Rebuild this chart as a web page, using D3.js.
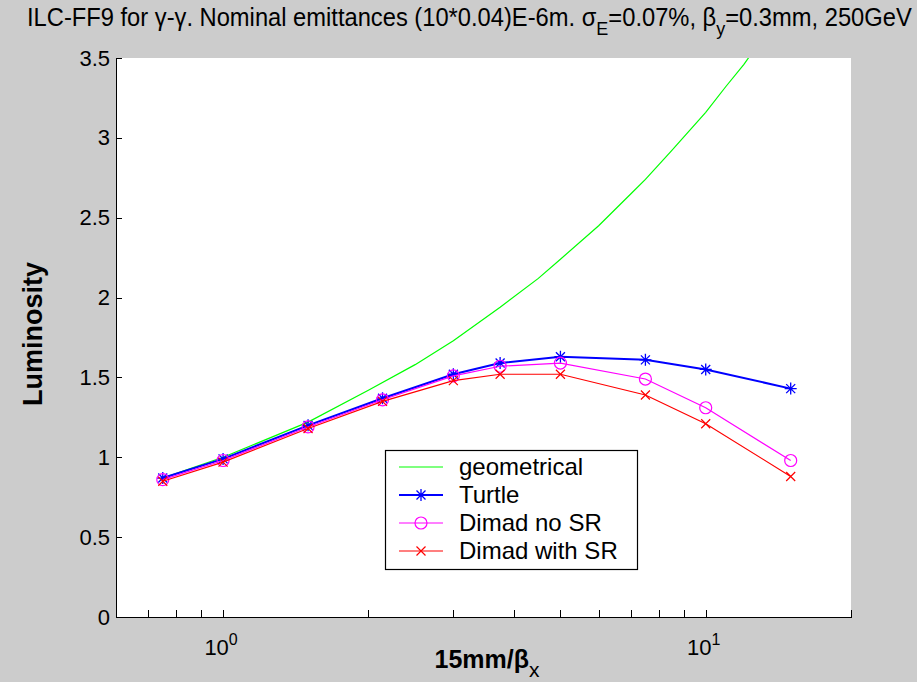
<!DOCTYPE html>
<html>
<head>
<meta charset="utf-8">
<script src="https://cdn.jsdelivr.net/npm/d3@7"></script>
<style>
  body { margin: 0; background: #cccccc; }
  svg { display: block; font-family: "Liberation Sans", Arial, sans-serif; }
</style>
</head>
<body>
<div id="chart"></div>
<script>
// data
const betaX = [0.75, 1, 1.5, 2.14, 3, 3.75, 5, 7.5, 10, 15];
const turtle = [0.87, 0.99, 1.20, 1.37, 1.52, 1.59, 1.63, 1.61, 1.55, 1.43];
const dimadNoSR = [0.86, 0.98, 1.19, 1.36, 1.51, 1.57, 1.59, 1.49, 1.31, 0.98];
const dimadSR = [0.85, 0.97, 1.18, 1.35, 1.48, 1.52, 1.52, 1.39, 1.21, 0.88];
const geomX = [0.75, 1, 1.5, 2, 2.5, 3, 3.75, 4.5, 5, 6, 7, 7.5, 8.5, 10, 11, 12, 13, 15];
const geomY = [0.87, 1.00, 1.22, 1.42, 1.58, 1.73, 1.94, 2.12, 2.24, 2.45, 2.65, 2.74, 2.92, 3.16, 3.32, 3.46, 3.61, 3.87];
const yTicks = [0, 0.5, 1, 1.5, 2, 2.5, 3, 3.5];
const xMajor = [1, 10];
const xMinor = [0.7, 0.8, 0.9, 2, 3, 4, 5, 6, 7, 8, 9, 20];
const legendNames = ["geometrical", "Turtle", "Dimad no SR", "Dimad with SR"];

const width = 917, height = 682;
const pLeft = 116, pRight = 851, pTop = 58, pBottom = 617;

const x = d3.scaleLog().domain([0.6, 20]).range([pLeft, pRight]);
const y = d3.scaleLinear().domain([0, 3.5]).range([pBottom, pTop]);

const svg = d3.select("#chart").append("svg")
    .attr("width", width)
    .attr("height", height);

svg.append("rect").attr("width", width).attr("height", height).attr("fill", "#cccccc");
svg.append("rect")
    .attr("x", pLeft).attr("y", pTop)
    .attr("width", pRight - pLeft).attr("height", pBottom - pTop)
    .attr("fill", "#fff");

svg.append("clipPath").attr("id", "clip")
  .append("rect")
    .attr("x", pLeft).attr("y", pTop)
    .attr("width", pRight - pLeft).attr("height", pBottom - pTop);

// axes
const yAxis = svg.append("g")
    .attr("transform", `translate(${pLeft},0)`)
    .call(d3.axisLeft(y).tickValues(yTicks).tickSize(-6).tickSizeOuter(0).tickPadding(6)
        .tickFormat(d => d));
yAxis.selectAll("text").attr("font-size", 22).attr("fill", "#000")
    .attr("font-family", "Liberation Sans, Arial, sans-serif");

const xAxis = svg.append("g")
    .attr("transform", `translate(0,${pBottom})`)
    .call(d3.axisBottom(x).tickValues(xMajor.concat(xMinor)).tickSize(-7).tickSizeOuter(0)
        .tickFormat(""));

svg.selectAll(".domain, .tick line")
    .attr("stroke", "#000")
    .attr("shape-rendering", "crispEdges");

// x tick labels 10^0, 10^1
xMajor.forEach((v, i) => {
  const t = svg.append("text")
      .attr("x", x(v) - 2).attr("y", 655)
      .attr("text-anchor", "middle")
      .attr("font-size", 22);
  t.append("tspan").text("10");
  t.append("tspan").attr("dy", -10).attr("font-size", 16).text(i);
});

// axis labels
const xl = svg.append("text")
    .attr("x", 487).attr("y", 668)
    .attr("text-anchor", "middle")
    .attr("font-size", 25).attr("font-weight", "bold");
xl.append("tspan").text("15mm/β");
xl.append("tspan").attr("dy", 9).attr("font-weight", "normal").attr("font-size", 21).text("x");

svg.append("text")
    .attr("transform", "translate(42,334) rotate(-90)")
    .attr("text-anchor", "middle")
    .attr("font-size", 27).attr("font-weight", "bold")
    .text("Luminosity");

// title
const title = svg.append("text")
    .attr("x", 0).attr("y", 26)
    .attr("font-size", 25);
title.append("tspan").text("ILC-FF9 for γ-γ. Nominal emittances (10*0.04)E-6m. σ");
title.append("tspan").attr("dy", 9).attr("font-size", 19).text("E");
title.append("tspan").attr("dy", -9).text("=0.07%, β");
title.append("tspan").attr("dy", 9).attr("font-size", 19).text("y");
title.append("tspan").attr("dy", -9).text("=0.3mm, 250GeV");
const tw = title.node().getComputedTextLength();
title.attr("transform", `translate(27,0) scale(${885 / tw},1)`);

// lines
const line = d3.line().x(d => x(d[0])).y(d => y(d[1]));
const plot = svg.append("g").attr("clip-path", "url(#clip)");

const geom = geomX.map((v, i) => [v, geomY[i]]);
const series = [
  { values: turtle, color: "#0000ff", width: 2, marker: "star" },
  { values: dimadNoSR, color: "#ff00ff", width: 1.2, marker: "circle" },
  { values: dimadSR, color: "#ff0000", width: 1.2, marker: "cross" }
];

plot.append("path").datum(geom)
    .attr("d", line).attr("fill", "none")
    .attr("stroke", "#00ff00").attr("stroke-width", 1.2);

function drawMarker(g, kind, color) {
  if (kind === "star") {
    g.append("path").attr("d", "M-6,0H6M0,-6V6M-4.5,-4.5L4.5,4.5M-4.5,4.5L4.5,-4.5")
        .attr("stroke", color).attr("stroke-width", 1.3).attr("fill", "none");
  } else if (kind === "circle") {
    g.append("circle").attr("r", 6)
        .attr("stroke", color).attr("stroke-width", 1.2).attr("fill", "none");
  } else {
    g.append("path").attr("d", "M-4.5,-4.5L4.5,4.5M-4.5,4.5L4.5,-4.5")
        .attr("stroke", color).attr("stroke-width", 1.2).attr("fill", "none");
  }
}

series.forEach(s => {
  const pts = betaX.map((v, i) => [v, s.values[i]]);
  plot.append("path").datum(pts)
      .attr("d", line).attr("fill", "none")
      .attr("stroke", s.color).attr("stroke-width", s.width);
  plot.selectAll(null).data(pts).enter().append("g")
      .attr("transform", d => `translate(${x(d[0])},${y(d[1])})`)
      .each(function() { drawMarker(d3.select(this), s.marker, s.color); });
});

// legend
const lg = svg.append("g");
lg.append("rect")
    .attr("x", 385.5).attr("y", 450.5).attr("width", 252).attr("height", 119)
    .attr("fill", "#fff").attr("stroke", "#000").attr("stroke-width", 1.2);
const legendItems = [{ color: "#00ff00", width: 1.2, marker: null }].concat(series);
legendItems.forEach((s, i) => {
  const cy = 467 + i * 28;
  lg.append("line").attr("x1", 399).attr("x2", 443).attr("y1", cy).attr("y2", cy)
      .attr("stroke", s.color).attr("stroke-width", s.width);
  if (s.marker) drawMarker(lg.append("g").attr("transform", `translate(421,${cy})`), s.marker, s.color);
  lg.append("text").attr("x", 459).attr("y", cy + 8)
      .attr("font-size", 24).text(legendNames[i]);
});
</script>
</body>
</html>
